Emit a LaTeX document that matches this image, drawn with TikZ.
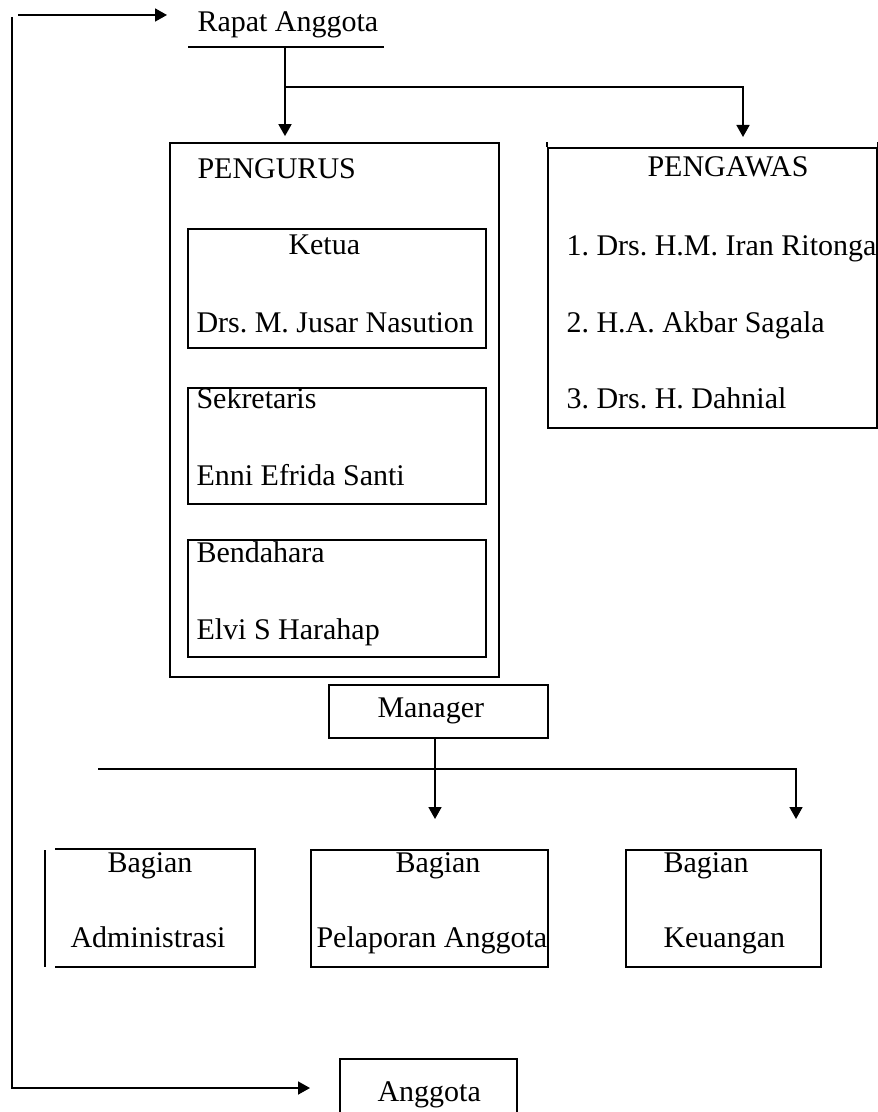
\documentclass[tikz,border=0pt]{standalone}
\usepackage{fontspec}
\setmainfont{Liberation Serif}
\usetikzlibrary{arrows.meta,fit}
\frenchspacing

\begin{document}
\begin{tikzpicture}[
  x=0.4pt, y=-0.4pt,
  every node/.style={font=\fontsize{12}{14}\selectfont},
  txt/.style={anchor=base west, inner sep=0pt},
  box/.style={draw, line width=0.7pt, inner sep=0pt},
  conn/.style={-{Triangle[length=4.8pt,width=5.2pt]}, line width=0.7pt},
  ln/.style={line width=0.7pt},
]
\useasboundingbox (0,0) rectangle (878,1112);

% ===== Units: 1 unit = 1 px of the page, y runs downward =====

%% ---- TOP: Rapat Anggota ----
\node[txt] (rapat) at (197,32) {Rapat Anggota};
\draw[ln] (188,47) -- (384,47);
\coordinate (rtail) at (18,15);
\coordinate (rtip) at (167,15);
\draw[conn] (rtail) -- (rtip);

%% ---- PENGURUS ----
\node[box, fit={(170,143)(499,677)}] (pengurus) {};
\node[txt] (pengurustitle) at (197,178) {PENGURUS};

\node[box, fit={(188,229)(486,348)}] (ketua) {};
\node[txt] at (288,254) {Ketua};
\node[txt] at (196,332) {Drs. M. Jusar Nasution};

\node[box, fit={(188,388)(486,504)}] (sekretaris) {};
\node[txt] at (196,408) {Sekretaris};
\node[txt] at (196,485) {Enni Efrida Santi};

\node[box, fit={(188,540)(486,657)}] (bendahara) {};
\node[txt] at (196,562) {Bendahara};
\node[txt] at (196,639) {Elvi S Harahap};

%% ---- PENGAWAS ----
\node[box, fit={(548,148)(877,428)}] (pengawas) {};
\draw[ln] (pengawas.north west) -- ++(0,-5);
\draw[ln] (pengawas.north east) -- ++(0,-5);
\node[txt] (pengawastitle) at (647,177) {PENGAWAS};
\node[txt] at (566,255) {1. Drs. H.M. Iran Ritonga};
\node[txt] at (566,332) {2. H.A. Akbar Sagala};
\node[txt] at (566,408) {3. Drs. H. Dahnial};

% Arrows from Rapat Anggota
\coordinate (rapatfoot) at (285,47);
\coordinate (fork) at (285,87);
\coordinate (pwtip) at (743,137);
\draw[conn, shorten >=2.4pt] (rapatfoot) -- (rapatfoot |- pengurus.north);
\draw[conn] (fork) -| (pwtip);

%% ---- MANAGER ----
\node[box, fit={(329,685)(548,738)}] (manager) {};
\node[txt] at (377,717) {Manager};

\coordinate (mtip) at (435,819);
\coordinate (barwest) at (98,769);
\coordinate (ktip) at (796,819);
\draw[conn] (manager.south -| mtip) -- (mtip);
\draw[conn] (barwest) -| (ktip);

%% ---- BAGIAN ----
\node[inner sep=0pt, line width=0.7pt, fit={(56,850)(254,966)}] (badm) {};
\draw[ln] (badm.north west) -- (badm.north east) -- (badm.south east) -- (badm.south west);
\draw[ln] (45,850) -- (45,967);
\node[txt] at (107,872) {Bagian};
\node[txt] at (70,947) {Administrasi};

\node[box, fit={(311,850)(548,967)}] (bpel) {};
\node[txt] at (395,872) {Bagian};
\node[txt] at (316,947) {Pelaporan Anggota};

\node[box, fit={(626,850)(821,967)}] (bkeu) {};
\node[txt] at (663,872) {Bagian};
\node[txt] at (663,947) {Keuangan};

%% ---- ANGGOTA + feedback loop ----
\node[box, fit={(340,1059)(517,1116)}] (anggota) {};
\node[txt] at (377,1101) {Anggota};

\coordinate (looptop) at (12,17);
\coordinate (atip) at (310,1088);
\draw[conn] (looptop) |- (atip);

\end{tikzpicture}
\end{document}
